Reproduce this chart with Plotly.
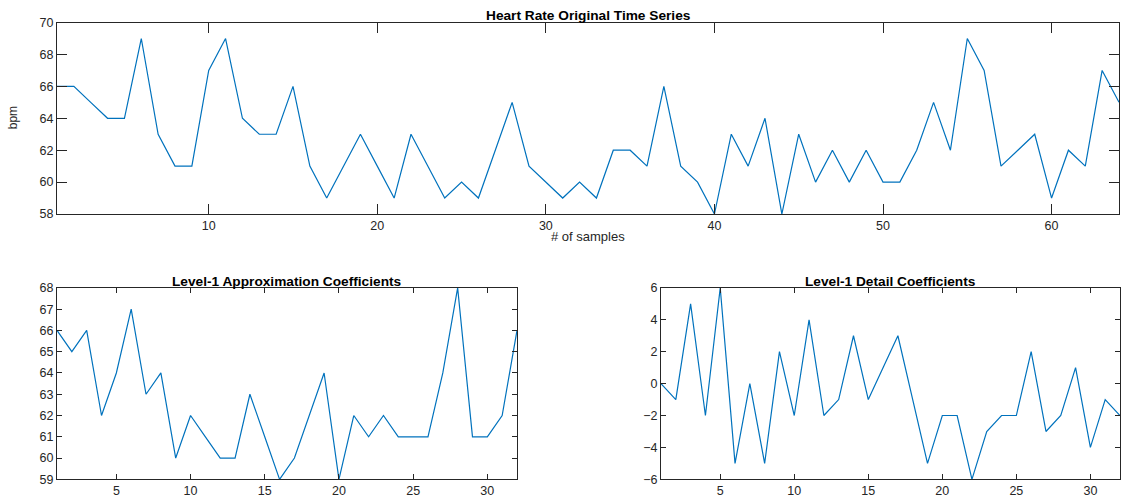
import plotly.graph_objects as go

# Original heart-rate series (64 samples)
samples = list(range(1, 65))
bpm = [66, 66, 65, 64, 64, 69, 63, 61, 61, 67, 69, 64, 63, 63, 66, 61,
       59, 61, 63, 61, 59, 63, 61, 59, 60, 59, 62, 65, 61, 60, 59, 60,
       59, 62, 62, 61, 66, 61, 60, 58, 63, 61, 64, 58, 63, 60, 62, 60,
       62, 60, 60, 62, 65, 62, 69, 67, 61, 62, 63, 59, 62, 61, 67, 65]

# Level-1 coefficients (32 each)
coef_idx = list(range(1, 33))
approx = [66, 65, 66, 62, 64, 67, 63, 64, 60, 62, 61, 60, 60, 63, 61, 59,
          60, 62, 64, 59, 62, 61, 62, 61, 61, 61, 64, 68, 61, 61, 62, 66]
detail = [0, -1, 5, -2, 6, -5, 0, -5, 2, -2, 4, -2, -1, 3, -1, 1,
          3, -1, -5, -2, -2, -6, -3, -2, -2, 2, -3, -2, 1, -4, -1, -2]

top_xticks = [10, 20, 30, 40, 50, 60]
top_yticks = [58, 60, 62, 64, 66, 68, 70]
bot_xticks = [5, 10, 15, 20, 25, 30]
approx_yticks = [59, 60, 61, 62, 63, 64, 65, 66, 67, 68]
detail_yticks = [-6, -4, -2, 0, 2, 4, 6]

W, H = 1123, 498
LINE = "#0072BD"
AX = "#262626"
FONT = "Liberation Sans, Arial, Helvetica, sans-serif"
TICK_SIZE = 12.5
TITLE_SIZE = 13.7
LABEL_SIZE = 13

fig = go.Figure()
fig.add_trace(go.Scatter(x=samples, y=bpm, mode="lines", line=dict(color=LINE, width=1.2),
                         xaxis="x", yaxis="y", showlegend=False))
fig.add_trace(go.Scatter(x=coef_idx, y=approx, mode="lines", line=dict(color=LINE, width=1.2),
                         xaxis="x2", yaxis="y2", showlegend=False))
fig.add_trace(go.Scatter(x=coef_idx, y=detail, mode="lines", line=dict(color=LINE, width=1.2),
                         xaxis="x3", yaxis="y3", showlegend=False))

def axis(domain, rng, ticks, anchor, ticklen):
    return dict(domain=domain, range=rng, tickvals=ticks, anchor=anchor,
                showgrid=False, zeroline=False, showline=True, linecolor=AX,
                linewidth=1, mirror="ticks", ticks="inside", ticklen=ticklen,
                tickcolor=AX, tickwidth=1,
                tickfont=dict(family=FONT, size=TICK_SIZE, color=AX))

top_x = [57 / W, 1119 / W]
top_y = [1 - 213 / H, 1 - 16 / H]
bl_x = [57 / W, 517 / W]
br_x = [661 / W, 1120 / W]
bot_y = [1 - 486 / H, 1 - 289 / H]

fig.update_layout(
    width=W, height=H,
    margin=dict(l=0, r=0, t=0, b=0),
    paper_bgcolor="white", plot_bgcolor="white",
    font=dict(family=FONT, color=AX),
    xaxis=axis(top_x, [1, 64], top_xticks, "y", 10),
    yaxis=axis(top_y, [58, 70], top_yticks, "x", 10),
    xaxis2=axis(bl_x, [1, 32], bot_xticks, "y2", 5),
    yaxis2=axis(bot_y, [59, 68], approx_yticks, "x2", 5),
    xaxis3=axis(br_x, [1, 32], bot_xticks, "y3", 5),
    yaxis3=axis(bot_y, [-6, 6], detail_yticks, "x3", 5),
)

annotations = [
    dict(text="<b>Heart Rate Original Time Series</b>", x=(top_x[0] + top_x[1]) / 2,
         y=1 - 9 / H, xref="paper", yref="paper", showarrow=False, xanchor="center",
         font=dict(family=FONT, size=TITLE_SIZE, color="black"), yanchor="middle"),
    dict(text="<b>Level-1 Approximation Coefficients</b>", x=(bl_x[0] + bl_x[1]) / 2,
         y=1 - 282 / H, xref="paper", yref="paper", showarrow=False, xanchor="center",
         font=dict(family=FONT, size=TITLE_SIZE, color="black"), yanchor="middle"),
    dict(text="<b>Level-1 Detail Coefficients</b>", x=(br_x[0] + br_x[1]) / 2,
         y=1 - 282 / H, xref="paper", yref="paper", showarrow=False, xanchor="center",
         font=dict(family=FONT, size=TITLE_SIZE, color="black"), yanchor="middle"),
    dict(text="# of samples", x=(top_x[0] + top_x[1]) / 2, y=1 - 236 / H,
         xref="paper", yref="paper", showarrow=False, xanchor="center",
         font=dict(family=FONT, size=LABEL_SIZE, color=AX), yanchor="middle"),
    dict(text="bpm", x=13 / W, y=(top_y[0] + top_y[1]) / 2, textangle=-90,
         xref="paper", yref="paper", showarrow=False,
         font=dict(family=FONT, size=12, color=AX), xanchor="center", yanchor="middle"),
]
fig.update_layout(annotations=annotations)

fig.write_html("out.html")
